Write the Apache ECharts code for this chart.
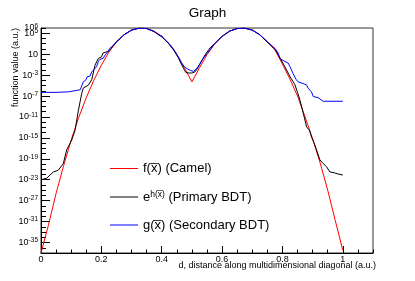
<!DOCTYPE html>
<html><head><meta charset="utf-8">
<script src="https://cdn.jsdelivr.net/npm/echarts@6/dist/echarts.min.js"></script>
<style>html,body{margin:0;padding:0;background:#fff}#c{width:415px;height:281px}</style>
</head><body><div id="c"></div>
<script>
const FONT = '"Liberation Sans", Arial, Helvetica, sans-serif';
const chartTitle = 'Graph';
const xName = 'd, distance along multidimensional diagonal (a.u.)';
const yName = 'function value (a.u.)';
const seriesNames = ['f(x\u0305) (Camel)', 'e^h(x\u0305) (Primary BDT)', 'g(x\u0305) (Secondary BDT)'];
const xTickLabels = [0, 0.2, 0.4, 0.6, 0.8, 1];
const yTickLabels = [1e6, 1e1, 1e-3, 1e-7, 1e-11, 1e-15, 1e-19, 1e-23, 1e-27, 1e-31, 1e-35];
const yTickLabelsExtra = [1e5];

// log10 of function value
const camelD = [0,0.025,0.05,0.075,0.1,0.125,0.15,0.175,0.2,0.225,0.25,0.275,0.3,0.325,0.35,0.375,0.4,0.425,0.45,0.475,0.5,
  0.525,0.55,0.575,0.6,0.625,0.65,0.675,0.7,0.725,0.75,0.775,0.8,0.825,0.85,0.875,0.9,0.925,0.95,0.975,1];
const camelExp = [-37.0,-31.6,-25.6,-20.3,-15.4,-11.1,-7.3,-4.0,-1.1,1.4,3.3,4.7,5.6,5.97,5.9,5.4,4.4,2.9,0.9,-1.6,-4.3,
  -1.6,0.9,2.9,4.4,5.4,5.9,5.97,5.6,4.7,3.3,1.8,-0.9,-3.8,-7.0,-11.0,-15.2,-19.8,-25.0,-30.8,-36.5];

const primaryD = [0,0.019,0.041,0.057,0.074,0.085,0.102,0.113,0.124,0.135,0.140,0.157,0.168,0.179,0.190,0.201,0.205,0.225,0.25,0.275,
  0.3,0.325,0.35,0.375,0.4,0.42,0.44,0.455,0.465,0.475,0.48,0.49,0.5,0.51,0.52,0.53,0.545,0.56,0.575,0.6,
  0.625,0.65,0.675,0.7,0.725,0.75,0.775,0.79,0.808,0.825,0.841,0.85,0.858,0.869,0.88,0.89,0.896,0.905,0.913,0.924,
  0.935,0.946,0.957,0.973,0.984,1.0];
const primaryExp = [-23.0,-22.7,-21.5,-21.2,-19.9,-17.3,-15.4,-13.5,-9.7,-6.5,-5.5,-4.9,-3.9,-1.1,0.2,0.5,1.2,1.6,3.4,4.7,
  5.6,5.97,5.9,5.3,4.3,3.2,1.8,0.3,-0.9,-2.0,-2.5,-2.6,-2.6,-2.4,-1.6,-0.5,1.0,2.2,3.0,4.4,
  5.4,5.9,5.97,5.6,4.7,3.3,2.0,0.5,-1.4,-3.3,-4.8,-6.3,-7.8,-10.3,-12.9,-13.6,-14.8,-16.0,-17.3,-19.2,
  -19.9,-20.5,-21.5,-21.7,-21.9,-22.1];

const secondaryD = [0,0.05,0.092,0.096,0.130,0.135,0.140,0.149,0.153,0.162,0.168,0.184,0.190,0.195,0.206,0.212,0.218,0.228,0.24,0.25,
  0.275,0.3,0.325,0.35,0.375,0.39,0.4,0.41,0.425,0.44,0.455,0.465,0.475,0.485,0.495,0.505,0.515,0.525,0.535,0.55,
  0.575,0.6,0.625,0.65,0.675,0.7,0.725,0.75,0.765,0.775,0.786,0.791,0.797,0.808,0.819,0.825,0.83,0.835,0.846,0.852,
  0.868,0.88,0.885,0.896,0.902,0.918,0.924,0.935,1.0];
const secondaryExp = [-6.3,-6.3,-6.2,-5.9,-5.8,-5.7,-4.3,-3.9,-3.3,-3.2,-2.4,-1.4,-0.4,0.0,0.2,0.8,1.2,2.1,2.7,3.3,
  4.7,5.6,5.97,5.9,5.3,4.7,4.5,3.8,3.0,1.9,0.5,-0.6,-1.4,-1.8,-2.1,-2.3,-1.8,-1.0,0.0,1.1,
  3.0,4.4,5.4,5.9,5.97,5.6,4.7,3.4,2.6,2.1,1.2,0.2,-0.1,-0.4,-0.7,-1.4,-2.0,-2.7,-3.9,-4.3,
  -4.6,-4.9,-5.5,-6.2,-7.1,-7.3,-7.6,-8.0,-8.0];

const seriesColors = ['#ff0000', '#000000', '#0000ff'];

function pairs(ds, es) { return ds.map((d, i) => [d, Math.pow(10, es[i])]); }

const xMinorTicks = [];
for (let i = 0; i <= 22; i++) xMinorTicks.push(+(i * 0.05).toFixed(2));
const yDecadeTicks = [];
for (let e = 6; e >= -37; e--) yDecadeTicks.push(Math.pow(10, e));
const yLongTicks = [1e5].concat(yTickLabels.slice(1));

const legendRich = {};
legendRich[seriesNames[0]] = '{n|f(x\u0305) (Camel)}';
legendRich[seriesNames[1]] = '{n|e}{s|h(x\u0305)}{n| (Primary BDT)}';
legendRich[seriesNames[2]] = '{n|g(x\u0305) (Secondary BDT)}';

const yLabelFormatter = v => { const e = Math.round(Math.log10(v)); return e === 1 ? '{b|10}' : '{b|10}{s|' + e + '}'; };
const yLabelRich = {b: {fontFamily: FONT, fontSize: 9, lineHeight: 11, color: '#000'},
                    s: {fontFamily: FONT, fontSize: 6.5, lineHeight: 6, verticalAlign: 'top', color: '#000'}};

const chart = echarts.init(document.getElementById('c'), null, {renderer: 'canvas'});
chart.setOption({
  animation: false,
  backgroundColor: '#fff',
  textStyle: {fontFamily: FONT},
  title: {text: chartTitle, left: 'center', top: 1, textStyle: {fontFamily: FONT, fontSize: 13.5, fontWeight: 'normal', color: '#000'}},
  grid: {left: 41, right: 42, top: 28, bottom: 28, containLabel: false, outerBoundsMode: 'none',
         show: true, borderColor: '#333', borderWidth: 1, backgroundColor: 'transparent'},
  legend: {
    orient: 'vertical', left: 110, top: 162, padding: 0, itemWidth: 28, itemHeight: 1, itemGap: 15, icon: 'rect',
    data: seriesNames.map((n, i) => ({name: n, itemStyle: {color: seriesColors[i], borderWidth: 0}})),
    formatter: name => legendRich[name],
    textStyle: {fontFamily: FONT, color: '#000', fontSize: 13,
      rich: {n: {fontFamily: FONT, fontSize: 13, lineHeight: 14, color: '#000'},
             s: {fontFamily: FONT, fontSize: 8.5, lineHeight: 8, verticalAlign: 'top', color: '#000'}}}
  },
  xAxis: [
    {type: 'value', min: 0, max: 1.1, position: 'bottom',
     axisLine: {show: true, lineStyle: {color: '#000', width: 1}},
     axisTick: {show: true, inside: true, length: 7, customValues: xTickLabels, lineStyle: {color: '#000'}},
     axisLabel: {customValues: xTickLabels, formatter: v => String(+(+v).toFixed(1)), fontFamily: FONT, fontSize: 9, color: '#000', margin: 2},
     splitLine: {show: false}},
    {type: 'value', min: 0, max: 1.1, position: 'bottom',
     axisLine: {show: false},
     axisTick: {show: true, inside: true, length: 3.5, customValues: xMinorTicks, lineStyle: {color: '#000'}},
     axisLabel: {show: false}, splitLine: {show: false}}
  ],
  yAxis: [
    {type: 'log', logBase: 10, min: 1e-37, max: 1e6, position: 'left',
     axisLine: {show: true, lineStyle: {color: '#000', width: 1}},
     axisTick: {show: true, inside: true, length: 9, customValues: yLongTicks, lineStyle: {color: '#000'}},
     axisLabel: {customValues: yTickLabels, margin: 3, color: '#000', hideOverlap: false,
       formatter: yLabelFormatter, rich: yLabelRich},
     splitLine: {show: false}},
    {type: 'log', logBase: 10, min: 1e-37, max: 1e6, position: 'left',
     axisLine: {show: false},
     axisTick: {show: true, inside: true, length: 5, customValues: yDecadeTicks, lineStyle: {color: '#000'}},
     axisLabel: {show: false}, splitLine: {show: false}},
    {type: 'log', logBase: 10, min: 1e-37, max: 1e6, position: 'left',
     axisLine: {show: false}, axisTick: {show: false},
     axisLabel: {customValues: yTickLabelsExtra, margin: 3, color: '#000', hideOverlap: false,
       formatter: yLabelFormatter, rich: yLabelRich},
     splitLine: {show: false}}
  ],
  graphic: [
    {type: 'text', x: 16, y: 28, rotation: Math.PI / 2,
     style: {text: yName, fill: '#000', font: '9px ' + FONT, align: 'right', verticalAlign: 'middle'}},
    {type: 'text', x: 376, y: 266,
     style: {text: xName, fill: '#000', font: '9px ' + FONT, align: 'right', verticalAlign: 'middle'}}
  ],
  series: [
    {name: seriesNames[0], type: 'line', xAxisIndex: 0, yAxisIndex: 0, data: pairs(camelD, camelExp), symbol: 'none', clip: true,
     lineStyle: {color: seriesColors[0], width: 1}, itemStyle: {color: seriesColors[0]}},
    {name: seriesNames[1], type: 'line', xAxisIndex: 0, yAxisIndex: 0, data: pairs(primaryD, primaryExp), symbol: 'none', clip: true,
     lineStyle: {color: seriesColors[1], width: 1}, itemStyle: {color: seriesColors[1]}},
    {name: seriesNames[2], type: 'line', xAxisIndex: 0, yAxisIndex: 0, data: pairs(secondaryD, secondaryExp), symbol: 'none', clip: true,
     lineStyle: {color: seriesColors[2], width: 1}, itemStyle: {color: seriesColors[2]}}
  ]
});
</script></body></html>
